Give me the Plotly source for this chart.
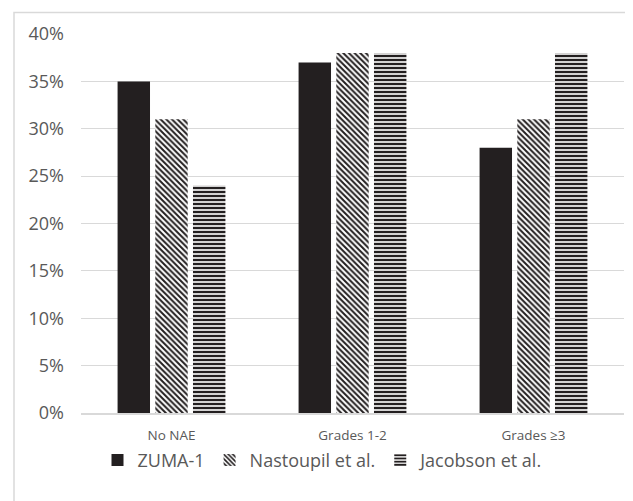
import plotly.graph_objects as go

categories = ["No NAE", "Grades 1-2", "Grades ≥3"]
zuma = [0.35, 0.37, 0.28]
nastoupil = [0.31, 0.38, 0.31]
jacobson = [0.24, 0.38, 0.38]
series_names = ["ZUMA-1", "Nastoupil et al.", "Jacobson et al."]

# page body has an 8px margin, so the figure is drawn at (8, 8)
OFF = 8
W, H = 633 - OFF, 501 - OFF
L, R, T, B = 81 - OFF, 9, 33.5 - OFF, 87.5
pw, ph = W - L - R, H - T - B

def px_x(x):
    return (x - OFF - L) / pw

def px_y(y):
    return (T + ph - (y - OFF)) / ph

fig = go.Figure()
fig.add_bar(x=categories, y=zuma, name=series_names[0],
            marker=dict(color="#231f20", line=dict(width=0)))
fig.add_bar(x=categories, y=nastoupil, name=series_names[1],
            marker=dict(color="white", line=dict(width=0),
                        pattern=dict(shape="\\", fgcolor="#231f20", bgcolor="white",
                                     size=4, solidity=0.5, fillmode="replace")))
fig.add_bar(x=categories, y=jacobson, name=series_names[2],
            marker=dict(color="white", line=dict(width=0),
                        pattern=dict(shape="-", fgcolor="#231f20", bgcolor="white",
                                     size=4, solidity=0.6, fillmode="replace")))

fig.add_shape(type="rect", xref="paper", yref="paper",
              x0=px_x(14), x1=px_x(640),
              y0=px_y(510), y1=px_y(12),
              line=dict(color="#d9d9d9", width=1.5), layer="below")

fig.update_layout(
    width=W, height=H,
    margin=dict(l=L, r=R, t=T, b=B, autoexpand=False),
    paper_bgcolor="white", plot_bgcolor="white",
    font=dict(family="Open Sans, Liberation Sans, sans-serif", color="#595959"),
    barmode="group", bargap=0.375, bargroupgap=0.14,
    showlegend=True,
    legend=dict(orientation="h", x=px_x(323), xanchor="center",
                y=px_y(461), yanchor="middle",
                bgcolor="rgba(0,0,0,0)",
                font=dict(size=18, color="#595959"), itemwidth=30,
                tracegroupgap=0),
    yaxis=dict(range=[0, 0.4], dtick=0.05, tickformat=".0%", automargin=False,
               showgrid=True, gridcolor="#d9d9d9", gridwidth=1,
               zeroline=False, showline=False, ticks="",
               tickfont=dict(size=18, color="#595959")),
    xaxis=dict(showline=True, linecolor="#d9d9d9", linewidth=1.5, ticks="",
               automargin=False, tickfont=dict(size=13.5, color="#595959")),
)
fig.update_yaxes(ticklabelstandoff=16)
fig.update_xaxes(ticklabelstandoff=9)

fig.write_html("out.html")
